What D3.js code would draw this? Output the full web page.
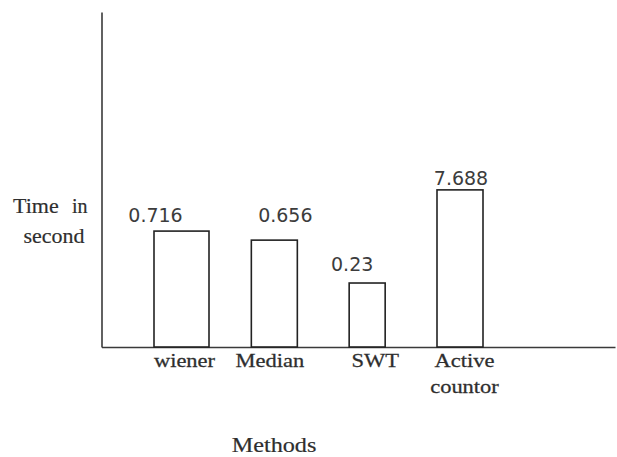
<!DOCTYPE html>
<html>
<head>
<meta charset="utf-8">
<script src="https://cdn.jsdelivr.net/npm/d3@7"></script>
<style>
  html, body { margin: 0; padding: 0; background: #fff; }
  svg { display: block; }
</style>
</head>
<body>
<svg id="chart" width="617" height="457"></svg>
<script>
// ---------------- data ----------------
const categories = ["wiener", "Median", "SWT", "Active countor"];
const valueLabels = ["0.716", "0.656", "0.23", "7.688"];     // time in seconds, as printed
// The original bars are not drawn to scale; their drawn heights, read off the
// picture as a percentage of the vertical axis length:
const barLevels = [34.6, 31.9, 19.1, 46.9];
const yTitleLines = ["Time  in", "second"];
const xTitle = "Methods";

// ---------------- layout ----------------
const W = 617, H = 457;
const axisLeft = 101.5, axisRight = 615, axisTop = 12, axisBottom = 347;
const barWidths = [55, 46, 36, 46];
const valueDx = [-26, 11, -15, 1];
const valueDy = [-9, -18, -12, -5];
const catDx = [3, -4.5, 8, 4.5];
const serif = "Liberation Serif, Times New Roman, serif";

const svg = d3.select("#chart");

const y = d3.scaleLinear().domain([0, 100]).range([axisBottom, axisTop]);
const x = d3.scalePoint().domain(categories).range([181.5, 460]);
const xLine = d3.scaleLinear().range([axisLeft, axisRight]);

// axes (lines only, no ticks)
const gy = svg.append("g").attr("transform", `translate(${axisLeft},0)`)
  .call(d3.axisLeft(y).tickValues([]).tickSizeOuter(0));
gy.select(".domain").attr("stroke", "#3a3a3a").attr("stroke-width", 1.6);

const gx = svg.append("g").attr("transform", `translate(0,${axisBottom})`)
  .call(d3.axisBottom(xLine).tickValues([]).tickSizeOuter(0));
gx.select(".domain").attr("stroke", "#3a3a3a").attr("stroke-width", 1.6);

// bars
svg.append("g").selectAll("rect")
  .data(categories)
  .join("rect")
  .attr("x", (d, i) => x(d) - barWidths[i] / 2)
  .attr("y", (d, i) => y(barLevels[i]))
  .attr("width", (d, i) => barWidths[i])
  .attr("height", (d, i) => y(0) - y(barLevels[i]))
  .attr("fill", "#fff")
  .attr("stroke", "#222")
  .attr("stroke-width", 1.6);

// value labels
svg.append("g").selectAll("text")
  .data(categories)
  .join("text")
  .attr("x", (d, i) => x(d) + valueDx[i])
  .attr("y", (d, i) => y(barLevels[i]) + valueDy[i])
  .attr("text-anchor", "middle")
  .attr("font-family", "DejaVu Sans, sans-serif")
  .attr("font-size", 19)
  .attr("fill", "#3c3c3c")
  .text((d, i) => valueLabels[i]);

// category labels (the original lettering is horizontally stretched)
const cat = svg.append("g").selectAll("g")
  .data(categories)
  .join("g")
  .attr("transform", (d, i) => `translate(${x(d) + catDx[i]},${axisBottom + 19.5}) scale(1.25,1)`);
cat.each(function (d) {
  const t = d3.select(this).append("text")
    .attr("text-anchor", "middle")
    .attr("font-family", serif)
    .attr("font-size", 18)
    .attr("fill", "#2e2e2e")
    .attr("stroke", "#2e2e2e")
    .attr("stroke-width", 0.25);
  d.split(" ").forEach((w, k) => {
    t.append("tspan").attr("x", 0).attr("y", k * 27).text(w);
  });
});

// y title
const yt = svg.append("text")
  .attr("font-family", serif)
  .attr("fill", "#2e2e2e")
  .attr("stroke", "#2e2e2e")
  .attr("stroke-width", 0.2);
yt.append("tspan").attr("x", 13).attr("y", 213).attr("font-size", 22).text(yTitleLines[0].split(/\s+/)[0]);
yt.append("tspan").attr("x", 72).attr("y", 213).attr("font-size", 20).text(yTitleLines[0].split(/\s+/)[1]);
svg.append("text")
  .attr("x", 54).attr("y", 243)
  .attr("text-anchor", "middle")
  .attr("font-family", serif)
  .attr("font-size", 22)
  .attr("fill", "#2e2e2e")
  .attr("stroke", "#2e2e2e")
  .attr("stroke-width", 0.2)
  .text(yTitleLines[1]);

// x title
svg.append("g")
  .attr("transform", "translate(274,451.5) scale(1.1,1)")
  .append("text")
  .attr("text-anchor", "middle")
  .attr("font-family", serif)
  .attr("font-size", 22)
  .attr("fill", "#2e2e2e")
  .attr("stroke", "#2e2e2e")
  .attr("stroke-width", 0.2)
  .text(xTitle);
</script>
</body>
</html>
